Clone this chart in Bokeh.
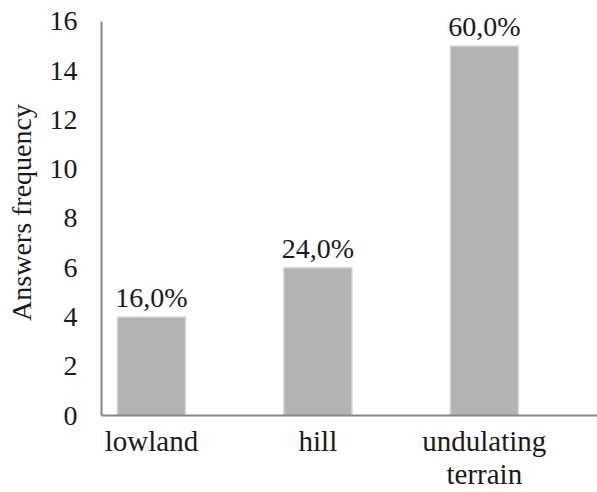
from bokeh.plotting import figure
from bokeh.models import ColumnDataSource, Range1d, FixedTicker, LabelSet
from bokeh.embed import file_html
from bokeh.resources import INLINE

categories = ["lowland", "hill", "undulating\nterrain"]
frequencies = [4, 6, 15]
pct_labels = ["16,0%", "24,0%", "60,0%"]
y_ticks = [0, 2, 4, 6, 8, 10, 12, 14, 16]

xpos = [i + 0.5 for i in range(len(categories))]
src = ColumnDataSource(dict(x=xpos, top=frequencies, lab=pct_labels))

FONT = "Liberation Serif"
TXT = "#1a1a1a"

p = figure(width=597, height=492, output_backend="svg", toolbar_location=None,
           x_range=Range1d(0.2, 3.18), y_range=Range1d(0, 16.486))
p.min_border_left = 101
p.min_border_right = 0
p.min_border_top = 9
p.min_border_bottom = 76
p.outline_line_color = None
p.xgrid.visible = False
p.ygrid.visible = False
p.background_fill_color = "white"
p.border_fill_color = "white"

p.vbar(x="x", top="top", width=0.41, source=src, fill_color="#b3b3b3",
       line_color="#d9d9d9", line_width=1.5)
labels = LabelSet(x="x", y="top", text="lab", source=src, text_align="center",
                  text_baseline="alphabetic", y_offset=10, text_font=FONT,
                  text_font_size="28px", text_color=TXT)
p.add_layout(labels)

p.xaxis.ticker = FixedTicker(ticks=xpos)
p.xaxis.major_label_overrides = {x: c for x, c in zip(xpos, categories)}
p.xaxis.major_tick_line_color = None
p.xaxis.minor_tick_line_color = None
p.xaxis.axis_line_color = "#868686"
p.xaxis.axis_line_width = 2
p.xaxis.major_label_text_font = FONT
p.xaxis.major_label_text_font_size = "29px"
p.xaxis.major_label_text_line_height = 1.04
p.xaxis.major_label_text_color = TXT
p.xaxis.major_label_standoff = 3

p.yaxis.ticker = FixedTicker(ticks=y_ticks)
p.yaxis.bounds = (0, 16)
p.yaxis.major_tick_line_color = None
p.yaxis.minor_tick_line_color = None
p.yaxis.axis_line_color = "#868686"
p.yaxis.axis_line_width = 2
p.yaxis.major_label_text_font = FONT
p.yaxis.major_label_text_font_size = "28px"
p.yaxis.major_label_text_color = TXT
p.yaxis.major_label_standoff = 18
p.yaxis.axis_label = "Answers frequency"
p.yaxis.axis_label_text_font = FONT
p.yaxis.axis_label_text_font_size = "28px"
p.yaxis.axis_label_text_font_style = "normal"
p.yaxis.axis_label_text_color = TXT
p.yaxis.axis_label_standoff = 10

open("out.html", "w").write(file_html(p, INLINE))
